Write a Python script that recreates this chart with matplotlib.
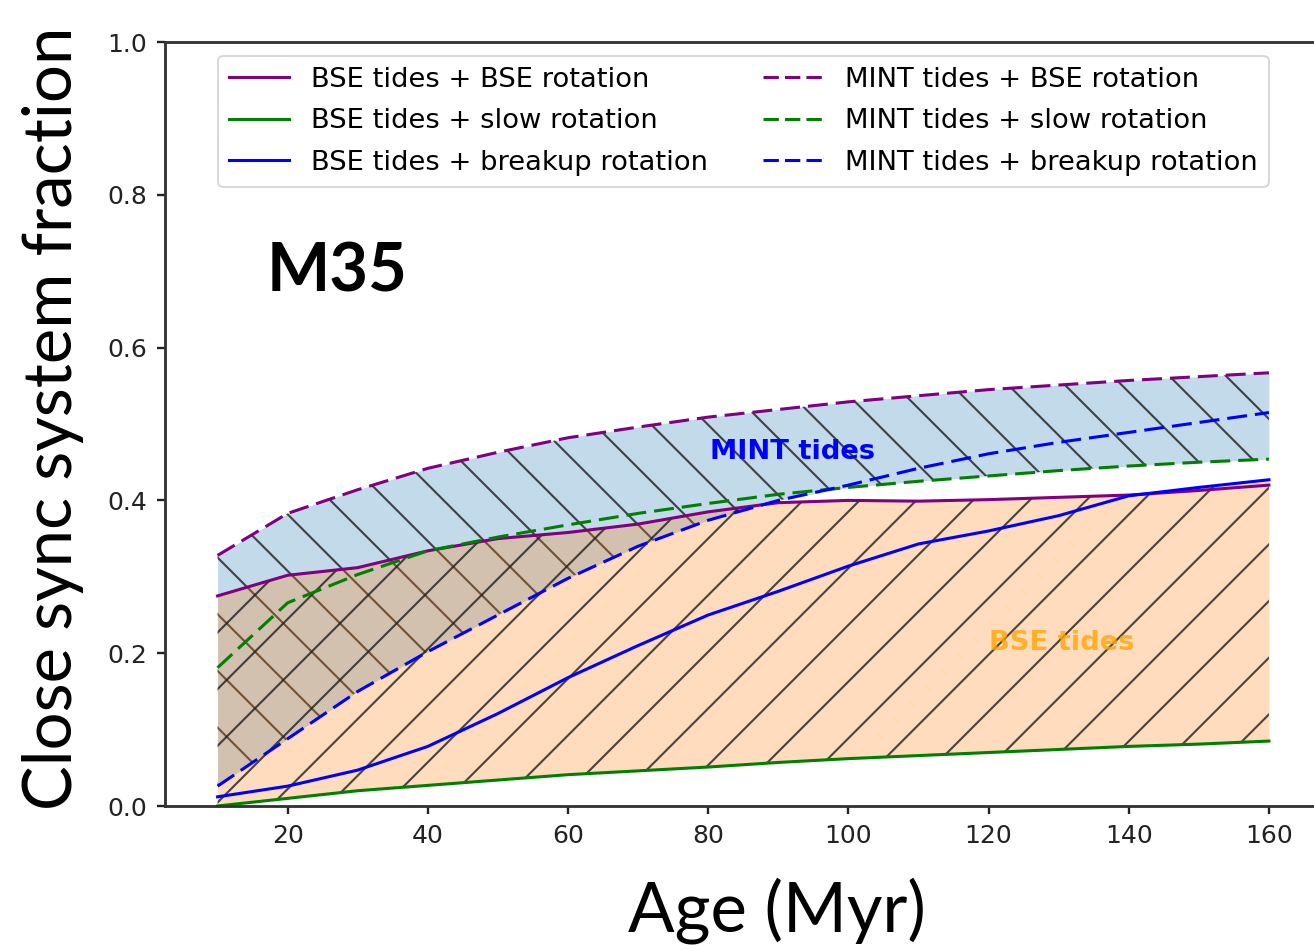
import numpy as np
import matplotlib
matplotlib.use("Agg")
import matplotlib.pyplot as plt

# M35 close sync fraction vs age

age = [10, 20, 30, 40, 50, 60, 70, 80, 90, 100, 110, 120, 130, 140, 150, 160]

bse_bse = [0.275, 0.302, 0.312, 0.334, 0.350, 0.358, 0.369, 0.385, 0.397, 0.400, 0.399, 0.401, 0.404, 0.407, 0.413, 0.420]
bse_slow = [0.000, 0.010, 0.020, 0.027, 0.034, 0.041, 0.046, 0.051, 0.057, 0.062, 0.066, 0.070, 0.074, 0.078, 0.081, 0.085]
bse_breakup = [0.012, 0.026, 0.047, 0.078, 0.121, 0.168, 0.210, 0.250, 0.281, 0.314, 0.343, 0.360, 0.380, 0.406, 0.417, 0.427]

mint_bse = [0.328, 0.383, 0.414, 0.442, 0.463, 0.482, 0.496, 0.509, 0.519, 0.529, 0.537, 0.545, 0.551, 0.557, 0.562, 0.567]
mint_slow = [0.181, 0.266, 0.303, 0.334, 0.352, 0.368, 0.383, 0.396, 0.408, 0.417, 0.425, 0.432, 0.439, 0.445, 0.450, 0.454]
mint_breakup = [0.026, 0.088, 0.150, 0.202, 0.250, 0.298, 0.340, 0.374, 0.400, 0.420, 0.442, 0.461, 0.476, 0.489, 0.502, 0.515]

DPI = 340
fig = plt.figure(figsize=(1314 / DPI, 950 / DPI), dpi=DPI)
ax = fig.add_axes([165 / 1314, 1 - 806 / 950, 1156.5 / 1314, 764 / 950])

plt.rcParams['hatch.linewidth'] = 0.45

x = np.array(age)
mint_all = np.array([mint_bse, mint_slow, mint_breakup])
bse_all = np.array([bse_bse, bse_slow, bse_breakup])
hatch_col = (0.12, 0.12, 0.12, 0.8)

# shaded regions (MINT first, BSE on top)
ax.fill_between(x, mint_all.min(axis=0), mint_all.max(axis=0), color='C0', alpha=0.27, linewidth=0)
ax.fill_between(x, mint_all.min(axis=0), mint_all.max(axis=0), facecolor='none',
                edgecolor=hatch_col, hatch='\\\\', linewidth=0)
ax.fill_between(x, bse_all.min(axis=0), bse_all.max(axis=0), color='C1', alpha=0.27, linewidth=0)
ax.fill_between(x, bse_all.min(axis=0), bse_all.max(axis=0), facecolor='none',
                edgecolor=hatch_col, hatch='//', linewidth=0)

lw = 0.65
dash = (0, (6.5, 2.6))
ax.plot(x, bse_bse, color='purple', lw=lw, label='BSE tides + BSE rotation')
ax.plot(x, bse_slow, color='green', lw=lw, label='BSE tides + slow rotation')
ax.plot(x, bse_breakup, color='blue', lw=lw, label='BSE tides + breakup rotation')
ax.plot(x, mint_bse, color='purple', lw=lw, ls=dash, label='MINT tides + BSE rotation')
ax.plot(x, mint_slow, color='green', lw=lw, ls=dash, label='MINT tides + slow rotation')
ax.plot(x, mint_breakup, color='blue', lw=lw, ls=dash, label='MINT tides + breakup rotation')

ax.text(92, 0.463, 'MINT tides', color='blue', fontsize=5.8, fontweight='bold',
        ha='center', va='center')
ax.text(130.5, 0.213, 'BSE tides', color='orange', alpha=0.8, fontsize=5.8,
        fontweight='bold', ha='center', va='center')

ax.set_xlim(2.5, 167.5)
ax.set_ylim(0, 1.0)
ax.set_xticks([20, 40, 60, 80, 100, 120, 140, 160])
ax.set_yticks([0.0, 0.2, 0.4, 0.6, 0.8, 1.0])
ax.tick_params(labelsize=5.3, length=1.6, width=0.5, pad=2.2, colors='#222222')
for s in ax.spines.values():
    s.set_linewidth(0.6)
    s.set_color('#333333')

leg = ax.legend(loc='upper center', ncol=2, fontsize=5.8, handlelength=2.2,
                columnspacing=2.0, labelspacing=0.57, framealpha=0.8,
                edgecolor='#cccccc', borderpad=0.4)
leg.get_frame().set_linewidth(0.4)
for ln in leg.get_lines()[3:]:
    ln.set_linestyle((0, (5.0, 2.0)))

# overlay labels in a humanist font
fig.text(267 / 1314, 1 - 292 / 950, 'M35', fontsize=14.2, fontweight='bold',
         family='Lato', ha='left', va='baseline')
fig.text(777 / 1314, 1 - 932 / 950, 'Age (Myr)', fontsize=14.6, family='Lato',
         ha='center', va='baseline')
fig.text(53 / 1314, 1 - 418 / 950, 'Close sync system fraction', fontsize=14.2,
         family='Lato', rotation=90, ha='center', va='center')

fig.savefig('out.png', dpi=DPI)
